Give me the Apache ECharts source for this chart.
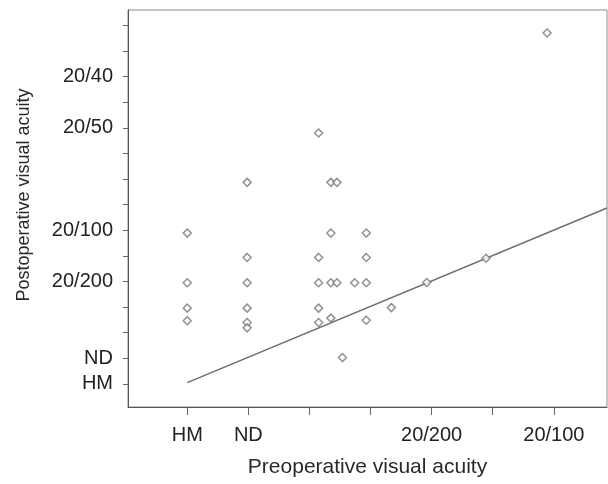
<!DOCTYPE html>
<html>
<head>
<meta charset="utf-8">
<script src="https://cdn.jsdelivr.net/npm/echarts@6/dist/echarts.min.js"></script>
<style>html,body{margin:0;padding:0;background:#fff;}#c{width:608px;height:484px;}</style>
</head>
<body>
<div id="c"></div>
<script>
// Axis tick positions and labels (tick units)
var xTickValues = [0, 1, 2, 3, 4, 5, 6];
var xLabelValues = [0, 1, 4, 6];
var xLabelTexts = ['HM', 'ND', '20/200', '20/100'];
var yTickValues = [0, 1, 2, 3, 4, 5, 6, 7, 8, 9, 10, 11, 12, 13, 14];
var yLabelValues = [0, 1, 4, 6, 10, 12];
var yLabelTexts = ['HM', 'ND', '20/200', '20/100', '20/50', '20/40'];

// Patient points [preoperative, postoperative]
var patients = [
  [0, 5.89], [0, 3.95], [0, 2.96], [0, 2.47],
  [0.98, 7.87], [0.98, 4.94], [0.98, 3.95], [0.98, 2.96], [0.98, 2.40], [0.98, 2.19],
  [2.15, 9.80], [2.15, 4.94], [2.15, 3.95], [2.15, 2.96], [2.15, 2.40],
  [2.35, 7.87], [2.35, 5.89], [2.35, 3.95], [2.35, 2.57],
  [2.45, 7.87], [2.45, 3.95],
  [2.54, 1.03],
  [2.74, 3.95],
  [2.93, 5.89], [2.93, 4.94], [2.93, 3.95], [2.93, 2.49],
  [3.34, 2.98],
  [3.92, 3.96],
  [4.89, 4.91],
  [5.89, 13.70]
];

// Regression line endpoints
var fitLine = [[0, 0.05], [6.87, 6.87]];

function lookup(vals, texts) {
  return function (v) {
    for (var i = 0; i < vals.length; i++) {
      if (Math.abs(vals[i] - v) < 1e-6) return texts[i];
    }
    return '';
  };
}

var font = "'Liberation Sans', Arial, Helvetica, sans-serif";
var chart = echarts.init(document.getElementById('c'));
chart.setOption({
  animation: false,
  backgroundColor: '#fff',
  grid: {
    left: 128, right: 1, top: 10, bottom: 77,
    show: true, borderColor: '#8a8a8a', borderWidth: 1, backgroundColor: 'transparent'
  },
  xAxis: {
    type: 'value',
    min: -0.97, max: 6.87,
    name: 'Preoperative visual acuity',
    nameLocation: 'middle',
    nameGap: 50,
    nameTextStyle: { fontFamily: font, fontSize: 21, color: '#2a2a2a' },
    axisLine: { show: true, onZero: false, lineStyle: { color: '#555', width: 1 } },
    axisTick: { show: true, customValues: xTickValues, length: 8, inside: false, lineStyle: { color: '#666', width: 1 } },
    axisLabel: {
      customValues: xLabelValues,
      formatter: lookup(xLabelValues, xLabelTexts),
      fontFamily: font, fontSize: 20, color: '#222', margin: 18
    },
    splitLine: { show: false }
  },
  yAxis: {
    type: 'value',
    min: -0.9, max: 14.6,
    axisLine: { show: true, onZero: false, lineStyle: { color: '#555', width: 1 } },
    axisTick: { show: true, customValues: yTickValues, length: 5, inside: false, lineStyle: { color: '#666', width: 1 } },
    axisLabel: {
      customValues: yLabelValues,
      formatter: lookup(yLabelValues, yLabelTexts),
      fontFamily: font, fontSize: 20, color: '#222', margin: 15
    },
    splitLine: { show: false }
  },
  graphic: [{
    type: 'text',
    x: 24, y: 195,
    rotation: Math.PI / 2,
    style: {
      text: 'Postoperative visual acuity',
      font: '18px ' + font,
      fill: '#2a2a2a',
      textAlign: 'center',
      textVerticalAlign: 'middle'
    }
  }],
  series: [
    {
      type: 'line',
      data: fitLine,
      showSymbol: false,
      symbol: 'none',
      lineStyle: { color: '#6e6e6e', width: 1.5 },
      z: 2
    },
    {
      type: 'scatter',
      data: patients,
      symbol: 'diamond',
      symbolSize: 8,
      itemStyle: { color: '#fff', borderColor: '#777', borderWidth: 1.5 },
      z: 3
    }
  ]
});
</script>
</body>
</html>
